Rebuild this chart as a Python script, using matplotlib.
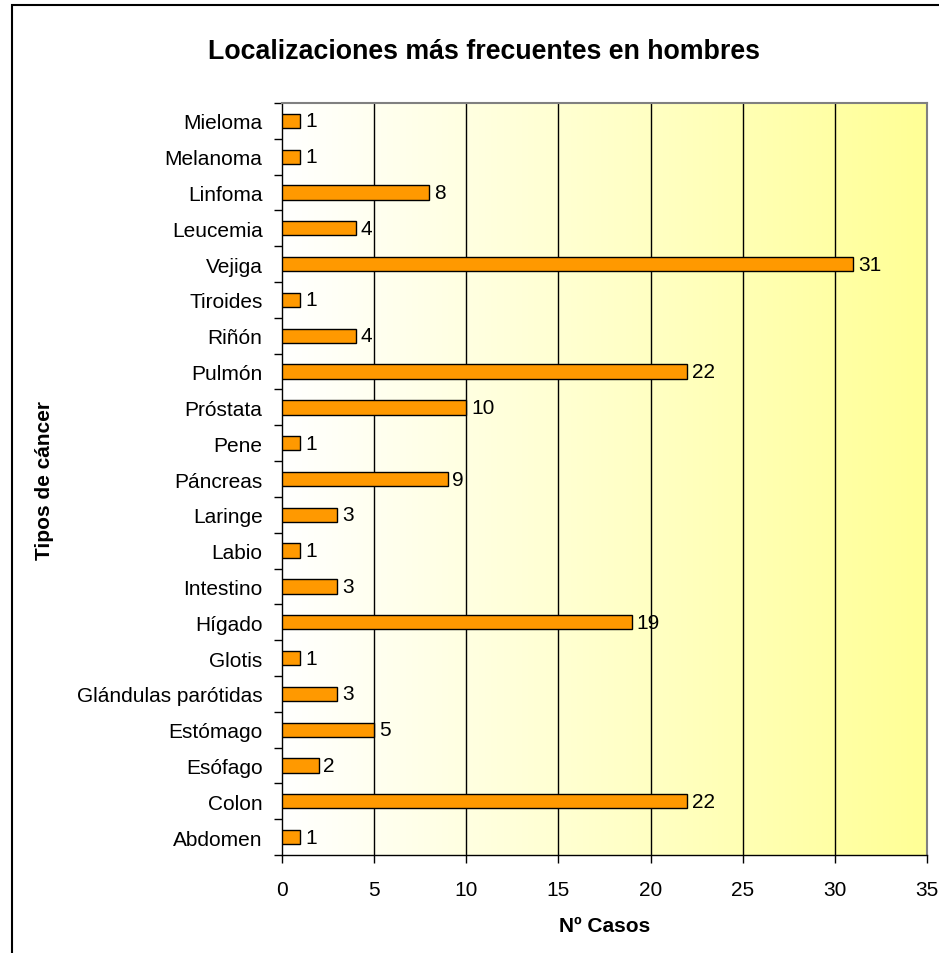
import numpy as np
import matplotlib.pyplot as plt
from matplotlib.colors import LinearSegmentedColormap
from matplotlib.patches import Rectangle

plt.rcParams['font.family'] = ['Liberation Sans', 'DejaVu Sans']

categorias = ['Abdomen', 'Colon', 'Esófago', 'Estómago', 'Glándulas parótidas',
              'Glotis', 'Hígado', 'Intestino', 'Labio', 'Laringe', 'Páncreas',
              'Pene', 'Próstata', 'Pulmón', 'Riñón', 'Tiroides', 'Vejiga',
              'Leucemia', 'Linfoma', 'Melanoma', 'Mieloma']
casos = [1, 22, 2, 5, 3, 1, 19, 3, 1, 3, 9, 1, 10, 22, 4, 1, 31, 4, 8, 1, 1]
xticks = [0, 5, 10, 15, 20, 25, 30, 35]

fig = plt.figure(figsize=(9.39, 9.54), dpi=100)
ax = fig.add_axes([282/939, 1-856/954, (927-282)/939, (856-104)/954])

n = len(categorias)
y = np.arange(n)

# fondo degradado blanco -> amarillo
cmap = LinearSegmentedColormap.from_list('fondo', ['#FFFFFF', '#FFFF96'])
grad = np.linspace(0, 1, 256).reshape(1, -1)
ax.imshow(grad, cmap=cmap, aspect='auto', extent=[0, 35, -0.5, n - 0.5],
          zorder=0, interpolation='bicubic')

ax.barh(y, casos, height=0.4, color='#FF9900', edgecolor='black', linewidth=1, zorder=3)
for yi, v in zip(y, casos):
    ax.text(v + 0.25, yi, str(v), va='center', ha='left', fontsize=15, zorder=4)

ax.set_xlim(0, 35)
ax.set_ylim(-0.5, n - 0.5)
ax.set_xticks(xticks)
ax.set_yticks(y)
ax.set_yticklabels(categorias)
ax.set_yticks(np.arange(-0.5, n, 1), minor=True)
ax.tick_params(axis='y', which='major', length=0, pad=14, labelsize=15)
ax.tick_params(axis='y', which='minor', length=6, width=1, direction='out')
ax.tick_params(axis='x', length=6, width=1, direction='out', pad=12, labelsize=15)

for xv in xticks[1:-1]:
    ax.axvline(xv, color='black', linewidth=1, zorder=1)

for s in ['top', 'right']:
    ax.spines[s].set_color('#808080')
    ax.spines[s].set_linewidth(1.5)
for s in ['left', 'bottom']:
    ax.spines[s].set_color('black')
    ax.spines[s].set_linewidth(1)

ax.set_xlabel('Nº Casos', fontsize=15, fontweight='bold', labelpad=12)
fig.text(45/939, 1 - 480/954, 'Tipos de cáncer', rotation=90, ha='center', va='center',
         fontsize=15, fontweight='bold')
fig.text(484/939, 1 - 52/954, 'Localizaciones más frecuentes en hombres', ha='center',
         va='center', fontsize=19.3, fontweight='bold')

# borde de la figura
fig.patches.append(Rectangle((12/939, -0.1), 1.2, 1.1 - 6/954,
                             transform=fig.transFigure, fill=False,
                             edgecolor='black', linewidth=1.5))

fig.savefig('out.png', dpi=100)
